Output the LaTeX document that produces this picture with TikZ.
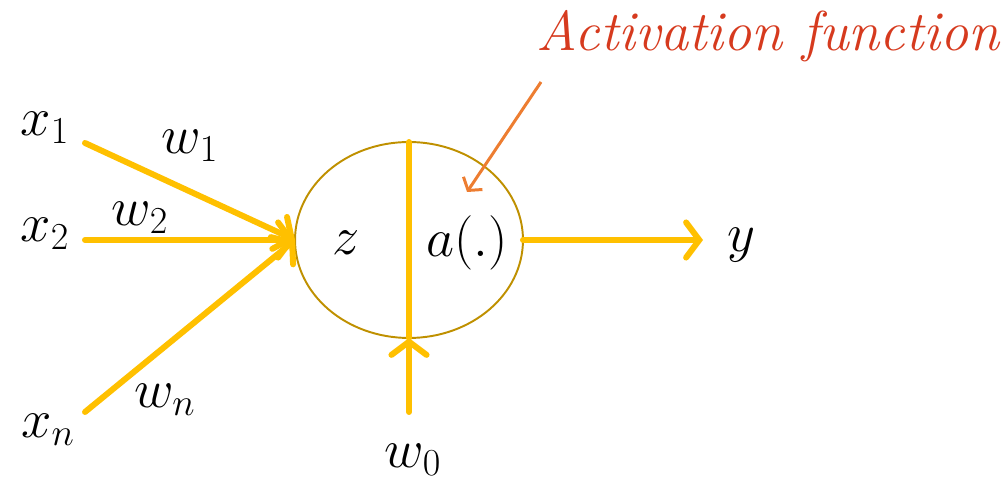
\RequirePackage{fix-cm}
\documentclass[tikz,border=0pt]{standalone}
\usepackage{amsmath}
\usepackage{tikz}
\usetikzlibrary{arrows.meta,shapes.geometric,positioning}
\definecolor{wire}{HTML}{FFC000}
\definecolor{rim}{HTML}{BF9000}
\definecolor{pointer}{HTML}{ED7D31}
\definecolor{title}{HTML}{D63A1E}
\tikzset{
  wire/.style={draw=wire, line width=3.4pt, line cap=round,
    -{Straight Barb[length=7.5pt,width=20pt,line width=3.4pt,line cap=round]}},
  lbl/.style={font=\fontsize{31}{38}\selectfont, inner sep=0pt}
}
\begin{document}
\begin{tikzpicture}[x=0.02cm, y=-0.02cm]
  \useasboundingbox (0,0) rectangle (1007,482);
  % neuron
  \node[ellipse, draw=rim, line width=1.1pt, inner sep=0pt, outer sep=0pt,
        minimum width=4.56cm, minimum height=3.92cm] (neuron) at (409,240) {};
  \draw[wire, -] (neuron.north) -- (neuron.south);
  \node[lbl] (z) at (346,243) {$z$};
  \node[lbl] (act) at (467,243) {$a(.)$};

  % inputs
  \node[lbl] (x1) at (45,128) {$x_1$};
  \node[lbl] (x2) at (45,234) {$x_2$};
  \node[lbl] (xn) at (48,430) {$x_n$};
  \coordinate (in1) at (85,143);
  \coordinate (in2) at (85,240);
  \coordinate (inn) at (85,412);
  \draw[wire] (in1) -- (neuron.west);
  \draw[wire] (in2) -- (neuron.west);
  \draw[wire] (inn) -- (neuron.west);
  \node[lbl] (w1) at (190,146) {$w_1$};
  \node[lbl] (w2) at (140,218) {$w_2$};
  \node[lbl] (wn) at (165,400) {$w_n$};

  % bias
  \coordinate (bias) at (409,412);
  \draw[wire] (bias) -- (neuron.south);
  \node[lbl] (w0) at (413,460) {$w_0$};

  % output
  \coordinate (out) at (703,240);
  \draw[wire] (neuron.east) -- (out);
  \node[lbl] (y) at (741,245) {$y$};

  % activation label
  \node[font=\fontsize{32}{38}\selectfont\itshape, text=title, inner sep=0pt] (title) at (768,36) {Activation function};
  \coordinate (tail) at (541,82);
  \coordinate (head) at (467,192);
  \draw[pointer, line width=1.7pt, -{Straight Barb[length=5pt,width=13pt,line width=1.7pt]}] (tail) -- (head);
\end{tikzpicture}
\end{document}
